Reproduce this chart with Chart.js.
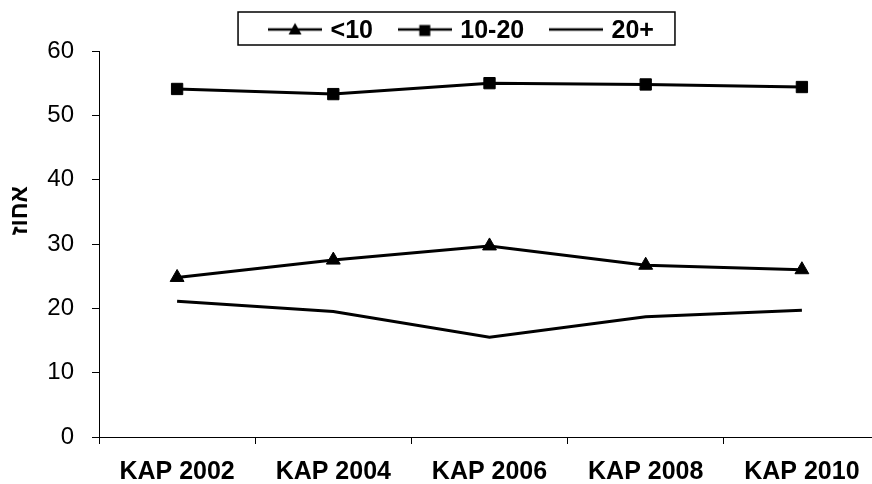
<!DOCTYPE html>
<html>
<head>
<meta charset="utf-8">
<script src="https://cdn.jsdelivr.net/npm/chart.js@4.4.0/dist/chart.umd.min.js"></script>
<style>
    html, body { margin: 0; padding: 0; background: #fff; overflow: hidden; }
</style>
</head>
<body>
<canvas id="chart" width="926" height="484"></canvas>
<script>
const years = ["KAP 2002", "KAP 2004", "KAP 2006", "KAP 2008", "KAP 2010"];
const seriesNames = ["<10", "10-20", "20+"];
const under10 = [24.8, 27.5, 29.7, 26.7, 26.0];
const from10to20 = [54.1, 53.3, 55.0, 54.8, 54.4];
const over20 = [21.1, 19.5, 15.5, 18.7, 19.7];
const yTicks = [0, 10, 20, 30, 40, 50, 60];
const yTitle = "          אחוז";

const FONT = "'Liberation Sans', Arial, sans-serif";

// small line+marker pictures for the legend
function legendIcon(marker) {
    const c = document.createElement("canvas");
    c.width = 54;
    c.height = 20;
    const g = c.getContext("2d");
    g.strokeStyle = "#000";
    g.fillStyle = "#000";
    g.lineWidth = 2.5;
    g.beginPath();
    g.moveTo(0, 8);
    g.lineTo(54, 8);
    g.stroke();
    if (marker === "triangle") {
        g.beginPath();
        g.moveTo(27, 1.5);
        g.lineTo(33.5, 13);
        g.lineTo(20.5, 13);
        g.closePath();
        g.fill();
    } else if (marker === "rect") {
        g.fillRect(21.5, 3.5, 11, 11);
    }
    return c;
}
const icons = [legendIcon("triangle"), legendIcon("rect"), legendIcon(null)];

// frame around the legend items
const legendFrame = {
    id: "legendFrame",
    afterDraw(chart) {
        const boxes = chart.legend.legendHitBoxes;
        if (!boxes || !boxes.length) return;
        const first = boxes[0], last = boxes[boxes.length - 1];
        const left = first.left - 34;
        const right = last.left + last.width + 21;
        const ctx = chart.ctx;
        ctx.save();
        ctx.strokeStyle = "#000";
        ctx.lineWidth = 1.5;
        ctx.strokeRect(left, first.top - 7, right - left, 33);
        ctx.restore();
    }
};

const ctx = document.getElementById("chart").getContext("2d");
new Chart(ctx, {
    type: "line",
    data: {
        labels: years,
        datasets: [
            {
                label: seriesNames[0],
                data: under10,
                yAxisID: "y",
                borderColor: "#000",
                backgroundColor: "#000",
                borderWidth: 3,
                pointStyle: "triangle",
                pointRadius: 8,
                pointBorderWidth: 1,
                tension: 0
            },
            {
                label: seriesNames[1],
                data: from10to20,
                yAxisID: "y",
                borderColor: "#000",
                backgroundColor: "#000",
                borderWidth: 3,
                pointStyle: "rect",
                pointRadius: 8,
                pointBorderWidth: 1,
                tension: 0
            },
            {
                label: seriesNames[2],
                data: over20,
                yAxisID: "y",
                borderColor: "#000",
                backgroundColor: "#000",
                borderWidth: 3,
                pointRadius: 0,
                tension: 0
            }
        ]
    },
    options: {
        responsive: false,
        animation: false,
        layout: { padding: { top: 11, left: 0, right: 0, bottom: 0 } },
        plugins: {
            legend: {
                position: "top",
                maxHeight: 40,
                labels: {
                    usePointStyle: true,
                    pointStyleWidth: 46,
                    padding: 8,
                    color: "#000",
                    font: { family: FONT, size: 25, weight: "bold" },
                    generateLabels: chart => seriesNames.map((name, i) => ({
                        text: name + (i < seriesNames.length - 1 ? "   " : ""),
                        pointStyle: icons[i],
                        fillStyle: "#000",
                        strokeStyle: "#000",
                        lineWidth: 0,
                        fontColor: "#000",
                        datasetIndex: i,
                        hidden: false
                    }))
                }
            },
            tooltip: { enabled: false }
        },
        scales: {
            x: {
                offset: true,
                grid: { offset: true, drawOnChartArea: false, tickLength: 7, color: "#000", lineWidth: 1 },
                border: { color: "#000", width: 1 },
                ticks: {
                    color: "#000",
                    padding: 13,
                    autoSkip: false,
                    maxRotation: 0,
                    font: { family: FONT, size: 25, weight: "bold" }
                },
                afterFit(scale) { scale.height = 47; }
            },
            y: {
                min: yTicks[0],
                max: yTicks[yTicks.length - 1],
                afterBuildTicks(scale) { scale.ticks = yTicks.map(v => ({ value: v })); },
                grid: { drawOnChartArea: false, tickLength: 7, color: "#000", lineWidth: 1 },
                border: { color: "#000", width: 1 },
                ticks: {
                    color: "#000",
                    padding: 18,
                    font: { family: FONT, size: 24 }
                },
                title: {
                    display: true,
                    text: yTitle,
                    color: "#000",
                    font: { family: FONT, size: 24, weight: "bold" },
                    padding: { top: 6, bottom: 0 }
                },
                afterFit(scale) { scale.width = 99; }
            },
            pad: {
                type: "linear",
                position: "right",
                display: true,
                grid: { display: false },
                border: { display: false },
                ticks: { display: false },
                afterFit(scale) { scale.width = 46; }
            }
        }
    },
    plugins: [legendFrame]
});
</script>
</body>
</html>
